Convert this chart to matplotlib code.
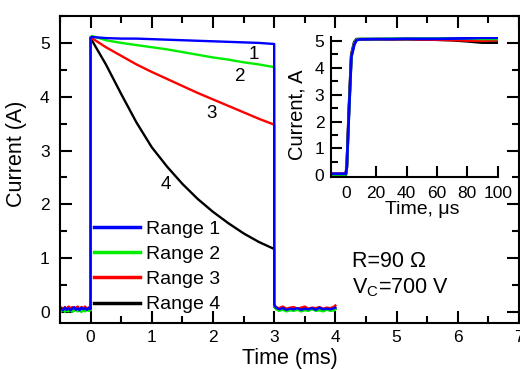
import matplotlib
matplotlib.use("Agg")
import matplotlib.pyplot as plt
from matplotlib.ticker import MultipleLocator

plt.rcParams['font.family'] = ['Liberation Sans', 'DejaVu Sans']

# main panel, time in ms
t_pre = [-0.48, -0.45, -0.42, -0.39, -0.36, -0.33, -0.30, -0.27, -0.24, -0.21,
         -0.18, -0.15, -0.12, -0.09, -0.06, -0.03, 0.0]
t_pulse = [0.0, 0.02, 0.25, 0.5, 0.75, 1.0, 1.25, 1.5, 1.75, 2.0, 2.25, 2.5, 2.75, 3.0]
t_post = [3.0, 3.03, 3.08, 3.14, 3.2, 3.26, 3.32, 3.38, 3.44, 3.5, 3.56, 3.62,
          3.68, 3.74, 3.8, 3.86, 3.92, 3.98, 4.0]

r1_pre = [0.06, 0.03, 0.08, 0.04, 0.07, 0.03, 0.06, 0.09, 0.04, 0.07, 0.03, 0.08,
          0.05, 0.07, 0.04, 0.08, 0.05]
r2_pre = [0.01, 0.04, 0.00, 0.03, 0.01, 0.04, 0.00, 0.02, 0.04, 0.01, 0.03, 0.00,
          0.03, 0.01, 0.04, 0.02, 0.03]
r3_pre = [0.08, 0.05, 0.09, 0.06, 0.10, 0.07, 0.09, 0.05, 0.08, 0.10, 0.06, 0.09,
          0.07, 0.10, 0.06, 0.08, 0.06]
r4_pre = [0.05, 0.07, 0.04, 0.06, 0.05, 0.07, 0.05, 0.06, 0.04, 0.06, 0.05, 0.07,
          0.05, 0.06, 0.05, 0.06, 0.05]

r1_pulse = [5.10, 5.11, 5.09, 5.08, 5.08, 5.07, 5.06, 5.05, 5.04, 5.03, 5.02, 5.01, 5.00, 4.98]
r2_pulse = [5.10, 5.13, 5.05, 5.00, 4.96, 4.92, 4.88, 4.83, 4.78, 4.73, 4.69, 4.64, 4.60, 4.55]
r3_pulse = [5.10, 5.09, 4.92, 4.76, 4.60, 4.46, 4.33, 4.20, 4.07, 3.95, 3.83, 3.71, 3.59, 3.48]
r4_pulse = [5.10, 5.05, 4.60, 4.05, 3.52, 3.06, 2.70, 2.38, 2.10, 1.86, 1.65, 1.46, 1.30, 1.17]

r1_post = [0.14, 0.08, 0.05, 0.07, 0.04, 0.06, 0.05, 0.07, 0.04, 0.06, 0.05, 0.07,
           0.04, 0.08, 0.05, 0.06, 0.05, 0.07, 0.08]
r2_post = [0.12, 0.05, 0.02, 0.04, 0.01, 0.03, 0.02, 0.04, 0.01, 0.03, 0.02, 0.05,
           0.02, 0.03, 0.01, 0.04, 0.02, 0.03, 0.05]
r3_post = [0.13, 0.09, 0.07, 0.10, 0.06, 0.08, 0.09, 0.06, 0.08, 0.10, 0.06, 0.08,
           0.07, 0.09, 0.06, 0.08, 0.07, 0.10, 0.12]
r4_post = [0.10, 0.06, 0.05, 0.06, 0.05, 0.06, 0.05, 0.06, 0.05, 0.06, 0.05, 0.06,
           0.05, 0.06, 0.05, 0.06, 0.05, 0.06, 0.06]

# inset, time in microseconds
ti = [-10, -5, 0, 0.6, 2.0, 3.6, 5.5, 7.0, 9.0, 20, 30, 40, 50, 60, 70, 80, 90, 100]
i1 = [0.06, 0.06, 0.06, 0.3, 2.3, 4.4, 4.85, 5.02, 5.05, 5.06, 5.06, 5.07, 5.07,
      5.07, 5.08, 5.09, 5.11, 5.11]
i2 = [0.03, 0.03, 0.03, 0.3, 2.3, 4.4, 4.88, 5.04, 5.06, 5.06, 5.07, 5.07, 5.08,
      5.08, 5.08, 5.08, 5.07, 5.07]
i3 = [0.05, 0.05, 0.05, 0.3, 2.35, 4.45, 4.9, 5.04, 5.05, 5.05, 5.05, 5.06, 5.05,
      5.04, 5.03, 5.01, 5.00, 5.03]
i4 = [0.05, 0.05, 0.05, 0.35, 2.5, 4.5, 4.95, 5.06, 5.06, 5.06, 5.06, 5.06, 5.05,
      5.04, 5.02, 4.98, 4.93, 4.93]

labels = ["Range 1", "Range 2", "Range 3", "Range 4"]
colors = ["#0000ff", "#00ee00", "#ff0000", "#000000"]
curve_names = ["1", "2", "3", "4"]
name_pos = [(2.66, 4.78), (2.44, 4.38), (1.98, 3.69), (1.23, 2.36)]

fig = plt.figure(figsize=(5.2, 3.69), dpi=100)
ax = fig.add_axes([0.1154, 0.1255, 0.8826, 0.8311])

series = [(r1_pre, r1_pulse, r1_post), (r2_pre, r2_pulse, r2_post),
          (r3_pre, r3_pulse, r3_post), (r4_pre, r4_pulse, r4_post)]
handles = [None] * 4
for k in [3, 2, 1, 0]:
    pre, pulse, post = series[k]
    h, = ax.plot(t_pre + t_pulse + t_post, pre + pulse + post,
                 color=colors[k], lw=1.7, label=labels[k])
    handles[k] = h

for name, (x, y) in zip(curve_names, name_pos):
    ax.text(x, y, name, fontsize=13.5, ha='center', va='center')

ax.set_xlim(-0.5, 7.0)
ax.set_ylim(-0.2, 5.5)
ax.xaxis.set_major_locator(MultipleLocator(1))
ax.xaxis.set_minor_locator(MultipleLocator(0.5))
ax.yaxis.set_major_locator(MultipleLocator(1))
ax.yaxis.set_minor_locator(MultipleLocator(0.5))
ax.tick_params(which='both', direction='in', top=True, right=True, width=1.5,
               labelsize=12.5)
ax.tick_params(which='major', length=8.5)
ax.tick_params(which='minor', length=5)
ax.tick_params(axis='y', pad=7.5)
ax.tick_params(axis='x', pad=5)
for s in ax.spines.values():
    s.set_linewidth(1.5)
ax.set_xlabel("Time (ms)", fontsize=15.5)
ax.set_ylabel("Current (A)", fontsize=15.5)
ax.xaxis.set_label_coords(0.5, -0.083)
ax.yaxis.set_label_coords(-0.072, 0.55)

leg = ax.legend(handles=handles, loc='lower left', bbox_to_anchor=(0.057, 0.005),
                frameon=False, fontsize=14, handlelength=2.37, handletextpad=0.31,
                labelspacing=0.39, borderaxespad=0)
for lh in leg.get_lines():
    lh.set_linewidth(2.5)

fig.text(351.7 / 520, 1 - 267.3 / 369, "R=90 Ω", fontsize=15.5, va='baseline', ha='left')
fig.text(351.7 / 520, 1 - 293.3 / 369, "V$_\\mathregular{C}$=700 V", fontsize=15.5,
         va='baseline', ha='left')

# inset
axi = fig.add_axes([330.7 / 520, 1 - 176.7 / 369, 167 / 520, 140 / 369])
for vals, c in zip([i4, i3, i2, i1], colors[::-1]):
    axi.plot(ti, vals, color=c, lw=2.0)
axi.set_xlim(-10, 100)
axi.set_ylim(-0.05, 5.15)
axi.spines['top'].set_visible(False)
axi.spines['right'].set_visible(False)
for s in axi.spines.values():
    s.set_linewidth(1.5)
axi.xaxis.set_major_locator(MultipleLocator(20))
axi.yaxis.set_major_locator(MultipleLocator(1))
axi.yaxis.set_minor_locator(MultipleLocator(0.5))
axi.tick_params(which='both', direction='in', width=1.5, labelsize=12.5)
axi.tick_params(which='major', length=8)
axi.tick_params(which='minor', length=5)
axi.tick_params(axis='x', pad=6.5)
axi.tick_params(axis='y', pad=4.5)
axi.set_xlabel("Time, μs", fontsize=14)
axi.set_ylabel("Current, A", fontsize=14.5)
axi.xaxis.set_label_coords(0.55, -0.171)
axi.yaxis.set_label_coords(-0.142, 0.44)
axi.patch.set_alpha(0)

fig.savefig("out.png", dpi=100)
